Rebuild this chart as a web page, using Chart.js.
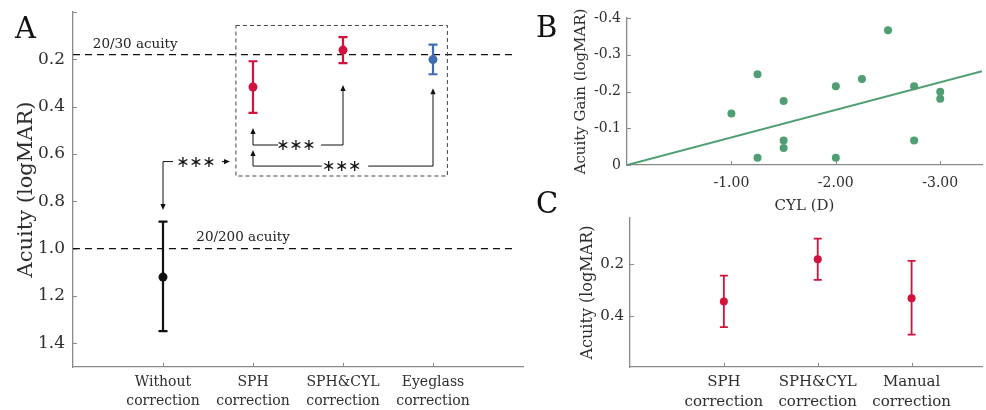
<!DOCTYPE html>
<html>
<head>
<meta charset="utf-8">
<script src="https://cdn.jsdelivr.net/npm/chart.js@4.4.1/dist/chart.umd.min.js"></script>
<style>
html, body { margin: 0; padding: 0; background: #fff; overflow: hidden; width: 986px; height: 410px; }
canvas { position: absolute; }
.tag { position: absolute; font-family: "DejaVu Serif"; font-size: 29px; line-height: 29px; color: #111; }
</style>
</head>
<body>
<canvas id="chartA" width="530" height="410" style="left:0;top:0"></canvas>
<canvas id="chartB" width="466" height="222" style="left:520px;top:0"></canvas>
<canvas id="chartC" width="466" height="210" style="left:520px;top:200px"></canvas>
<div class="tag" style="left:15px;top:14px">A</div>
<div class="tag" style="left:536px;top:13px">B</div>
<div class="tag" style="left:536px;top:189px">C</div>
<script>
// Panel A: acuity per correction
const catsA = [["Without", "correction"], ["SPH", "correction"], ["SPH&CYL", "correction"], ["Eyeglass", "correction"]];
const xA = [1, 2, 3, 4];
const meanA = [1.12, 0.317, 0.161, 0.201];
const upperA = [0.886, 0.208, 0.106, 0.138];
const lowerA = [1.348, 0.426, 0.216, 0.263];
const yTicksA = [0.2, 0.4, 0.6, 0.8, 1.0, 1.2, 1.4];
const refLevels = [0.18, 1.0];
const refLabels = ["20/30 acuity", "20/200 acuity"];

// Panel B: acuity gain vs cylinder
const cylB = [-1.0, -1.25, -1.25, -1.5, -1.5, -1.5, -2.0, -2.0, -2.25, -2.5, -2.75, -2.75, -3.0, -3.0];
const gainB = [-0.14, -0.247, -0.02, -0.174, -0.067, -0.046, -0.214, -0.02, -0.234, -0.367, -0.214, -0.067, -0.199, -0.18];
const fitX = [0, -3.4];
const fitY = [0, -0.255];
const xTicksB = [-1, -2, -3];
const yTicksB = [-0.4, -0.3, -0.2, -0.1, 0];

// Panel C
const catsC = [["SPH", "correction"], ["SPH&CYL", "correction"], ["Manual", "correction"]];
const xC = [1, 2, 3];
const meanC = [0.345, 0.181, 0.332];
const upperC = [0.244, 0.100, 0.187];
const lowerC = [0.445, 0.261, 0.474];
const yTicksC = [0.2, 0.4];

const RED = "#d3123b", BLUE = "#3f6eb0", GREEN = "#4f9f72", BLACK = "#111111";
const colorsA = [BLACK, RED, RED, BLUE];
const AXIS = "#8a8a8a", TXT = "#2e2e2e", FAM = "DejaVu Serif";

// ticks that point into the plot, like the original
function inwardTicks(xs, ys, len) {
  return {
    id: "inwardTicks",
    afterDraw(chart) {
      const { ctx, chartArea: a, scales: { x, y } } = chart;
      ctx.save();
      ctx.strokeStyle = AXIS;
      ctx.lineWidth = 1;
      ctx.beginPath();
      xs.forEach(v => { const p = Math.round(x.getPixelForValue(v)) + 0.5; ctx.moveTo(p, a.bottom); ctx.lineTo(p, a.bottom - len); });
      ys.forEach(v => { const p = Math.round(y.getPixelForValue(v)) + 0.5; ctx.moveTo(a.left, p); ctx.lineTo(a.left + len, p); });
      ctx.stroke();
      ctx.restore();
    }
  };
}

function errorBars(xs, up, low, colors, cap, width) {
  return {
    id: "errorBars",
    beforeDatasetsDraw(chart) {
      const { ctx, scales: { x, y } } = chart;
      ctx.save();
      ctx.lineWidth = width;
      xs.forEach((v, i) => {
        const px = x.getPixelForValue(v);
        const t = y.getPixelForValue(up[i]), b = y.getPixelForValue(low[i]);
        ctx.strokeStyle = colors[i];
        ctx.beginPath();
        ctx.moveTo(px, t); ctx.lineTo(px, b);
        ctx.moveTo(px - cap, t); ctx.lineTo(px + cap, t);
        ctx.moveTo(px - cap, b); ctx.lineTo(px + cap, b);
        ctx.stroke();
      });
      ctx.restore();
    }
  };
}

function arrow(ctx, pts, dir) {
  const L = 6, W = 2.6;
  const tip = pts[pts.length - 1];
  const d = { up: [0, -1], down: [0, 1], right: [1, 0] }[dir];
  const base = [tip[0] - d[0] * L, tip[1] - d[1] * L];
  ctx.beginPath();
  ctx.moveTo(pts[0][0], pts[0][1]);
  for (let i = 1; i < pts.length - 1; i++) ctx.lineTo(pts[i][0], pts[i][1]);
  ctx.lineTo(base[0], base[1]);
  ctx.stroke();
  ctx.beginPath();
  ctx.moveTo(tip[0], tip[1]);
  ctx.lineTo(base[0] - d[1] * W, base[1] - d[0] * W);
  ctx.lineTo(base[0] + d[1] * W, base[1] + d[0] * W);
  ctx.closePath();
  ctx.fill();
}

const annotationsA = {
  id: "annotationsA",
  beforeDatasetsDraw(chart) {
    const { ctx, scales: { x, y } } = chart;
    const X = v => x.getPixelForValue(v), Y = v => y.getPixelForValue(v);
    ctx.save();
    // reference lines
    ctx.strokeStyle = BLACK;
    ctx.lineWidth = 1.4;
    ctx.setLineDash([7, 5]);
    refLevels.forEach(r => { ctx.beginPath(); ctx.moveTo(X(0), Y(r)); ctx.lineTo(X(4.92), Y(r)); ctx.stroke(); });
    // dashed box
    ctx.strokeStyle = "#444";
    ctx.lineWidth = 1;
    ctx.setLineDash([4, 3]);
    ctx.strokeRect(X(1.81), Y(0.057), X(4.16) - X(1.81), Y(0.693) - Y(0.057));
    ctx.setLineDash([]);
    // labels
    ctx.fillStyle = "#222";
    ctx.font = "13.5px " + FAM;
    ctx.textBaseline = "alphabetic";
    ctx.fillText(refLabels[0], X(0.22), Y(refLevels[0]) - 7);
    ctx.fillText(refLabels[1], X(1.37), Y(refLevels[1]) - 8);
    // significance arrows
    ctx.strokeStyle = BLACK;
    ctx.fillStyle = BLACK;
    ctx.lineWidth = 1;
    const P = (a, b) => [X(a), Y(b)];
    arrow(ctx, [P(1.111, 0.632), P(1, 0.632), P(1, 0.837)], "down");
    arrow(ctx, [P(1.654, 0.632), P(1.744, 0.632)], "right");
    arrow(ctx, [P(2.278, 0.562), P(2, 0.562), P(2, 0.49)], "up");
    arrow(ctx, [P(2.756, 0.562), P(3, 0.562), P(3, 0.308)], "up");
    arrow(ctx, [P(2.764, 0.651), P(2, 0.651), P(2, 0.583)], "up");
    arrow(ctx, [P(3.28, 0.651), P(4, 0.651), P(4, 0.322)], "up");
    ctx.font = "16px DejaVu Sans";
    ctx.textAlign = "center";
    ctx.textBaseline = "middle";
    [[1.367, 0.632], [2.478, 0.562], [2.985, 0.651]].forEach(([a, b]) => {
      [-13, 0, 13].forEach(dx => ctx.fillText("\u2217", X(a) + dx, Y(b) + 1));
    });
    ctx.restore();
  }
};

const base = {
  responsive: false,
  animation: false,
  plugins: { legend: { display: false }, tooltip: { enabled: false } }
};

// fixed box sizes so the plot areas land where the original has them
function fixed(key, size) {
  return s => {
    s[key] = size;
    s.paddingTop = 0; s.paddingBottom = 0; s.paddingLeft = 0; s.paddingRight = 0;
  };
}

function axis(extra) {
  return Object.assign({
    type: "linear",
    grid: { display: false, drawTicks: false, tickLength: 0 },
    border: { color: AXIS, width: 1.3 }
  }, extra);
}

new Chart(document.getElementById("chartA"), {
  type: "scatter",
  data: {
    datasets: [{
      data: xA.map((v, i) => ({ x: v, y: meanA[i] })),
      pointRadius: 4.5,
      pointBackgroundColor: colorsA,
      pointBorderColor: colorsA,
      pointBorderWidth: 0
    }]
  },
  options: Object.assign({}, base, {
    layout: { padding: { left: 0, top: 12, right: 7, bottom: 0 } },
    scales: {
      x: axis({
        min: 0, max: 5,
        afterBuildTicks: s => { s.ticks = xA.map(v => ({ value: v })); },
        afterFit: fixed("height", 43),
        ticks: { autoSkip: false, maxRotation: 0, padding: 6, color: TXT, font: { family: FAM, size: 14, lineHeight: 1.35 },
          callback: v => catsA[xA.indexOf(v)] }
      }),
      y: axis({
        min: 0, max: 1.5, reverse: true,
        afterBuildTicks: s => { s.ticks = yTicksA.map(v => ({ value: v })); },
        afterFit: fixed("width", 73),
        ticks: { padding: 8, color: TXT, font: { family: FAM, size: 17 }, callback: v => v.toFixed(1) },
        title: { display: true, text: "Acuity (logMAR)", color: TXT, font: { family: FAM, size: 21 }, padding: { top: 14 } }
      })
    }
  }),
  plugins: [annotationsA, errorBars(xA, upperA, lowerA, colorsA, 4.5, 2.2), inwardTicks(xA, [0].concat(yTicksA), 4)]
});

new Chart(document.getElementById("chartB"), {
  type: "scatter",
  data: {
    datasets: [{
      data: cylB.map((v, i) => ({ x: v, y: gainB[i] })),
      pointRadius: 4,
      pointBackgroundColor: GREEN,
      pointBorderWidth: 0
    }, {
      type: "line",
      data: fitX.map((v, i) => ({ x: v, y: fitY[i] })),
      borderColor: GREEN,
      borderWidth: 2,
      pointRadius: 0
    }]
  },
  options: Object.assign({}, base, {
    layout: { padding: { left: 0, top: 18, right: 0, bottom: 0 } },
    scales: {
      x: axis({
        min: -3.4, max: 0, reverse: true,
        afterBuildTicks: s => { s.ticks = xTicksB.map(v => ({ value: v })); },
        afterFit: fixed("height", 57),
        ticks: { padding: 10, color: TXT, font: { family: FAM, size: 14 }, callback: v => v.toFixed(2) },
        title: { display: true, text: "CYL (D)", color: TXT, font: { family: FAM, size: 15 }, padding: { bottom: 7 } }
      }),
      y: axis({
        min: -0.4, max: 0, reverse: true,
        afterBuildTicks: s => { s.ticks = yTicksB.map(v => ({ value: v })); },
        afterFit: fixed("width", 107),
        ticks: { padding: 6, color: TXT, font: { family: FAM, size: 14 }, callback: v => (v === 0 ? "0" : v.toFixed(1)) },
        title: { display: true, text: "Acuity Gain (logMAR)", color: TXT, font: { family: FAM, size: 15 }, padding: { top: 52 } }
      })
    }
  }),
  plugins: [inwardTicks(xTicksB, yTicksB, 4)]
});

new Chart(document.getElementById("chartC"), {
  type: "scatter",
  data: {
    datasets: [{
      data: xC.map((v, i) => ({ x: v, y: meanC[i] })),
      pointRadius: 4,
      pointBackgroundColor: RED,
      pointBorderWidth: 0
    }]
  },
  options: Object.assign({}, base, {
    layout: { padding: { left: 0, top: 18, right: 0, bottom: 0 } },
    scales: {
      x: axis({
        min: 0, max: 3.75,
        afterBuildTicks: s => { s.ticks = xC.map(v => ({ value: v })); },
        afterFit: fixed("height", 43),
        ticks: { autoSkip: false, maxRotation: 0, padding: 6, color: TXT, font: { family: FAM, size: 15, lineHeight: 1.28 }, callback: v => catsC[xC.indexOf(v)] }
      }),
      y: axis({
        min: 0.02, max: 0.6, reverse: true,
        afterBuildTicks: s => { s.ticks = yTicksC.map(v => ({ value: v })); },
        afterFit: fixed("width", 110),
        ticks: { padding: 6, color: TXT, font: { family: FAM, size: 15 }, callback: v => v.toFixed(1) },
        title: { display: true, text: "Acuity (logMAR)", color: TXT, font: { family: FAM, size: 16 }, padding: { top: 58 } }
      })
    }
  }),
  plugins: [errorBars(xC, upperC, lowerC, [RED, RED, RED], 4, 1.8), inwardTicks(xC, yTicksC, 4)]
});
</script>
</body>
</html>
